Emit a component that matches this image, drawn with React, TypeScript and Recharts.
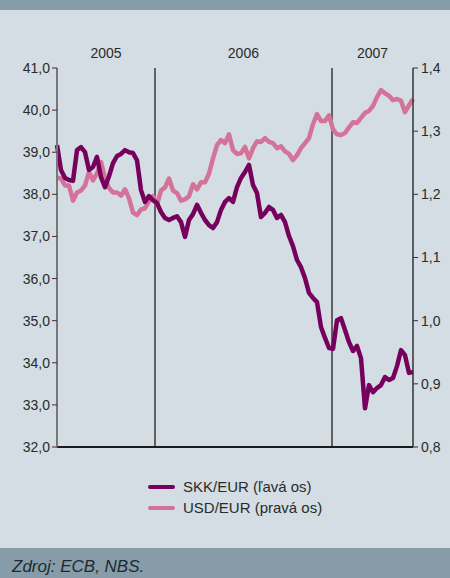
import React from "react";
import {
  LineChart,
  Line,
  XAxis,
  YAxis,
  ReferenceLine,
} from "recharts";

// SKK/EUR, lavá os (~weekly)
const skkEur = [
  39.17, 38.58, 38.39, 38.34, 38.32, 39.05, 39.12, 39.0, 38.58, 38.65,
  38.89, 38.41, 38.17, 38.43, 38.74, 38.91, 38.96, 39.05, 39.0, 38.98,
  38.81, 38.1, 37.82, 37.96, 37.86, 37.79, 37.58, 37.44, 37.39, 37.44,
  37.48, 37.34, 36.99, 37.39, 37.53, 37.75, 37.56, 37.39, 37.27, 37.2,
  37.34, 37.63, 37.82, 37.91, 37.82, 38.17, 38.39, 38.53, 38.7, 38.22,
  38.03, 37.46, 37.56, 37.7, 37.63, 37.44, 37.51, 37.34, 37.01, 36.77,
  36.44, 36.27, 36.01, 35.66, 35.54, 35.44, 34.85, 34.59, 34.35, 34.33,
  35.01, 35.06, 34.78, 34.49, 34.28, 34.4, 34.11, 32.92, 33.47, 33.3,
  33.4, 33.47, 33.66, 33.59, 33.64, 33.92, 34.3, 34.18, 33.76, 33.78,
];

// USD/EUR, pravá os
const usdEur = [
  1.227, 1.225, 1.214, 1.214, 1.19, 1.203, 1.206, 1.214, 1.235, 1.222,
  1.233, 1.251, 1.225, 1.21, 1.203, 1.203, 1.198, 1.208, 1.194, 1.171,
  1.167, 1.176, 1.178, 1.189, 1.197, 1.184, 1.206, 1.211, 1.225, 1.206,
  1.202, 1.19, 1.192, 1.197, 1.216, 1.208, 1.219, 1.219, 1.233, 1.257,
  1.278, 1.286, 1.281, 1.295, 1.27, 1.264, 1.265, 1.275, 1.257, 1.273,
  1.284, 1.283, 1.289, 1.283, 1.281, 1.273, 1.276, 1.268, 1.264, 1.254,
  1.262, 1.273, 1.281, 1.289, 1.311, 1.327, 1.316, 1.316, 1.325, 1.303,
  1.295, 1.294, 1.297, 1.306, 1.314, 1.313, 1.321, 1.329, 1.332, 1.34,
  1.354, 1.365, 1.36, 1.356, 1.349, 1.351, 1.348, 1.33, 1.341, 1.351,
];

// year boundaries and label centres, in sample index units
const yearBreaks = [24.5, 68.75];
const yearLabels = ["2005", "2006", "2007"];
const yearCentres = [12.25, 46.6, 78.9];

const leftTicks = [32, 33, 34, 35, 36, 37, 38, 39, 40, 41];
const rightTicks = [0.8, 0.9, 1.0, 1.1, 1.2, 1.3, 1.4];

const data = skkEur.map((v, i) => ({ i, skk: v, usd: usdEur[i] }));

const DARK = "#76005c";
const PINK = "#d4739a";
const BG = "#d3dde3";
const BAR = "#869ca9";
const FONT = "'Liberation Sans', Arial, sans-serif";

const fmt1 = (v: number) => v.toFixed(1).replace(".", ",");

export default function App() {
  return (
    <div
      style={{
        position: "absolute",
        left: 0,
        top: 0,
        width: 450,
        height: 578,
        background: BG,
        fontFamily: FONT,
        overflow: "hidden",
      }}
    >
      <div style={{ position: "absolute", left: 0, top: 0, width: 450, height: 10, background: BAR }} />

      <div style={{ position: "absolute", left: 0, top: 0 }}>
        <LineChart
          width={450}
          height={461}
          data={data}
          margin={{ top: 38, right: 0, bottom: 0, left: 0 }}
        >
          <XAxis
            xAxisId="bottom"
            dataKey="i"
            type="number"
            domain={[0, 89]}
            tick={false}
            tickLine={false}
            height={14}
            axisLine={{ stroke: "#1a1a1a", strokeWidth: 2 }}
          />
          <XAxis
            xAxisId="years"
            orientation="top"
            dataKey="i"
            type="number"
            domain={[0, 89]}
            ticks={yearCentres}
            tickFormatter={(v: number) => yearLabels[yearCentres.indexOf(v)]}
            axisLine={false}
            tickLine={false}
            tickSize={0}
            tickMargin={10}
            height={30}
            tick={{ fill: "#2a2a2a", fontSize: 14, fontFamily: FONT }}
          />
          <YAxis
            yAxisId="left"
            domain={[32, 41]}
            ticks={leftTicks}
            tickFormatter={fmt1}
            width={57}
            tickSize={5}
            tickMargin={2}
            interval={0}
            axisLine={{ stroke: "#777", strokeWidth: 2 }}
            tickLine={{ stroke: "#333" }}
            tick={{ fill: "#2a2a2a", fontSize: 14, fontFamily: FONT }}
          />
          <YAxis
            yAxisId="right"
            orientation="right"
            domain={[0.8, 1.4]}
            ticks={rightTicks}
            tickFormatter={fmt1}
            width={37}
            tickSize={5}
            tickMargin={3}
            interval={0}
            axisLine={{ stroke: "#333", strokeWidth: 1.5 }}
            tickLine={{ stroke: "#333" }}
            tick={{ fill: "#2a2a2a", fontSize: 14, fontFamily: FONT, textAnchor: "start" }}
          />
          {yearBreaks.map((x) => (
            <ReferenceLine
              key={x}
              x={x}
              xAxisId="bottom"
              yAxisId="left"
              stroke="#111"
              strokeWidth={1.2}
            />
          ))}
          <Line
            xAxisId="bottom"
            yAxisId="right"
            dataKey="usd"
            type="linear"
            stroke={PINK}
            strokeWidth={4.5}
            strokeLinejoin="round"
            dot={false}
            isAnimationActive={false}
          />
          <Line
            xAxisId="bottom"
            yAxisId="left"
            dataKey="skk"
            type="linear"
            stroke={DARK}
            strokeWidth={4.5}
            strokeLinejoin="round"
            dot={false}
            isAnimationActive={false}
          />
        </LineChart>
      </div>

      {/* legend */}
      <div style={{ position: "absolute", left: 148, top: 476, fontSize: 15, color: "#2a2a2a" }}>
        {[
          { label: "SKK/EUR (ľavá os)", color: DARK },
          { label: "USD/EUR (pravá os)", color: PINK },
        ].map((item) => (
          <div key={item.label} style={{ display: "flex", alignItems: "center", height: 21 }}>
            <span
              style={{
                display: "inline-block",
                width: 27,
                height: 4,
                borderRadius: 2,
                background: item.color,
                marginRight: 8,
              }}
            />
            <span>{item.label}</span>
          </div>
        ))}
      </div>

      <div
        style={{
          position: "absolute",
          left: 0,
          top: 548,
          width: 450,
          height: 30,
          background: BAR,
        }}
      >
        <span
          style={{
            position: "absolute",
            left: 12,
            top: 9,
            fontSize: 17,
            fontStyle: "italic",
            color: "#1e2a30",
          }}
        >
          Zdroj: ECB, NBS.
        </span>
      </div>
    </div>
  );
}
